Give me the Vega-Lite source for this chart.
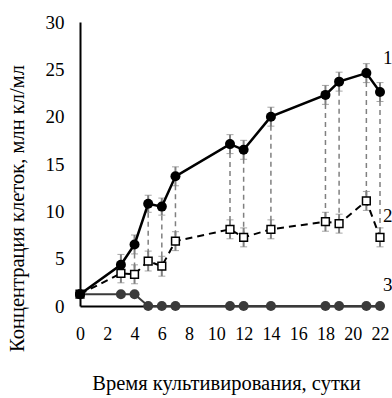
{
  "$schema": "https://vega.github.io/schema/vega-lite/v6.json",
  "width": 300,
  "height": 284,
  "autosize": "none",
  "padding": {"left": 80, "top": 22, "right": 12, "bottom": 92},
  "background": "white",
  "config": {
    "view": {"stroke": null},
    "font": "Liberation Serif",
    "axis": {"grid": false, "ticks": false, "labelOverlap": false, "labelFlush": false, "domainColor": "black", "domainWidth": 2, "labelFont": "Liberation Serif", "titleFont": "Liberation Serif", "labelFontSize": 19, "titleFontSize": 20.5, "labelColor": "black", "titleColor": "black", "titleFontWeight": "normal"}
  },
  "datasets": {
    "main": [
      {"day": 0, "s1": 1.25, "e1": 0.3, "s2": 1.25, "e2": 0.3, "s3": 1.25},
      {"day": 3, "s1": 4.35, "e1": 1.1, "s2": 3.45, "e2": 1.0, "s3": 1.25},
      {"day": 4, "s1": 6.5, "e1": 1.0, "s2": 3.35, "e2": 1.0, "s3": 1.25},
      {"day": 5, "s1": 10.8, "e1": 0.9, "s2": 4.75, "e2": 1.05, "s3": 0},
      {"day": 6, "s1": 10.5, "e1": 0.9, "s2": 4.2, "e2": 1.05, "s3": 0},
      {"day": 7, "s1": 13.7, "e1": 1.0, "s2": 6.85, "e2": 1.0, "s3": 0},
      {"day": 11, "s1": 17.1, "e1": 1.0, "s2": 8.1, "e2": 1.0, "s3": 0},
      {"day": 12, "s1": 16.5, "e1": 1.0, "s2": 7.25, "e2": 1.0, "s3": 0},
      {"day": 14, "s1": 20.0, "e1": 1.0, "s2": 8.1, "e2": 1.0, "s3": 0},
      {"day": 18, "s1": 22.3, "e1": 1.0, "s2": 8.9, "e2": 1.0, "s3": 0},
      {"day": 19, "s1": 23.7, "e1": 1.0, "s2": 8.7, "e2": 1.0, "s3": 0},
      {"day": 21, "s1": 24.6, "e1": 1.0, "s2": 11.1, "e2": 1.0, "s3": 0},
      {"day": 22, "s1": 22.6, "e1": 1.0, "s2": 7.25, "e2": 1.0, "s3": 0}
    ],
    "labels": [
      {"day": 22, "v": 26.2, "label": "1"},
      {"day": 22, "v": 9.5, "label": "2"},
      {"day": 22, "v": 2.2, "label": "3"}
    ]
  },
  "data": {"name": "main"},
  "encoding": {
    "x": {"field": "day", "type": "quantitative", "scale": {"domain": [0, 22], "nice": false}, "axis": {"values": [0,2,4,6,8,10,12,14,16,18,20,22], "labelOverlap": false, "labelFlush": false, "labelFontSize": 18, "labelPadding": 19, "title": "Время культивирования, сутки", "titlePadding": 30, "titleX": 146}}
  },
  "layer": [
    {
      "transform": [{"filter": "datum.day > 0"}],
      "mark": {"type": "rule", "color": "#808080", "strokeWidth": 1.5, "strokeDash": [5, 4]},
      "encoding": {
        "y": {"field": "s1", "type": "quantitative", "title": "Концентрация клеток, млн кл/мл", "scale": {"domain": [0, 30], "nice": false}, "axis": {"values": [0,5,10,15,20,25,30], "labelOverlap": false, "labelFlush": false, "labelPadding": 16, "titlePadding": 18, "titleY": 186}},
        "y2": {"field": "s2"}
      }
    },
    {
      "mark": {"type": "errorbar", "ticks": {"size": 7, "color": "#808080", "strokeWidth": 2}, "rule": {"color": "#808080", "strokeWidth": 2}},
      "encoding": {"y": {"field": "s1", "type": "quantitative", "title": "Концентрация клеток, млн кл/мл"}, "yError": {"field": "e1"}}
    },
    {
      "mark": {"type": "errorbar", "ticks": {"size": 7, "color": "#808080", "strokeWidth": 2}, "rule": {"color": "#808080", "strokeWidth": 2}},
      "encoding": {"y": {"field": "s2", "type": "quantitative", "title": "Концентрация клеток, млн кл/мл"}, "yError": {"field": "e2"}}
    },
    {
      "mark": {"type": "line", "color": "#3a3a3a", "strokeWidth": 2},
      "encoding": {"y": {"field": "s3", "type": "quantitative", "title": "Концентрация клеток, млн кл/мл"}}
    },
    {
      "mark": {"type": "circle", "color": "#3a3a3a", "opacity": 1, "size": 100},
      "encoding": {"y": {"field": "s3", "type": "quantitative", "title": "Концентрация клеток, млн кл/мл"}}
    },
    {
      "mark": {"type": "line", "color": "black", "strokeWidth": 2, "strokeDash": [7, 5]},
      "encoding": {"y": {"field": "s2", "type": "quantitative", "title": "Концентрация клеток, млн кл/мл"}}
    },
    {
      "mark": {"type": "square", "fill": "white", "stroke": "black", "strokeWidth": 1.5, "opacity": 1, "size": 60},
      "encoding": {"y": {"field": "s2", "type": "quantitative", "title": "Концентрация клеток, млн кл/мл"}}
    },
    {
      "mark": {"type": "line", "color": "black", "strokeWidth": 2.5},
      "encoding": {"y": {"field": "s1", "type": "quantitative", "title": "Концентрация клеток, млн кл/мл"}}
    },
    {
      "mark": {"type": "circle", "color": "black", "opacity": 1, "size": 100},
      "encoding": {"y": {"field": "s1", "type": "quantitative", "title": "Концентрация клеток, млн кл/мл"}}
    },
    {
      "data": {"name": "labels"},
      "mark": {"type": "text", "fontSize": 19, "font": "Liberation Serif", "color": "black", "align": "left", "dx": 3, "baseline": "middle"},
      "encoding": {"y": {"field": "v", "type": "quantitative", "title": "Концентрация клеток, млн кл/мл"}, "text": {"field": "label"}}
    }
  ]
}
